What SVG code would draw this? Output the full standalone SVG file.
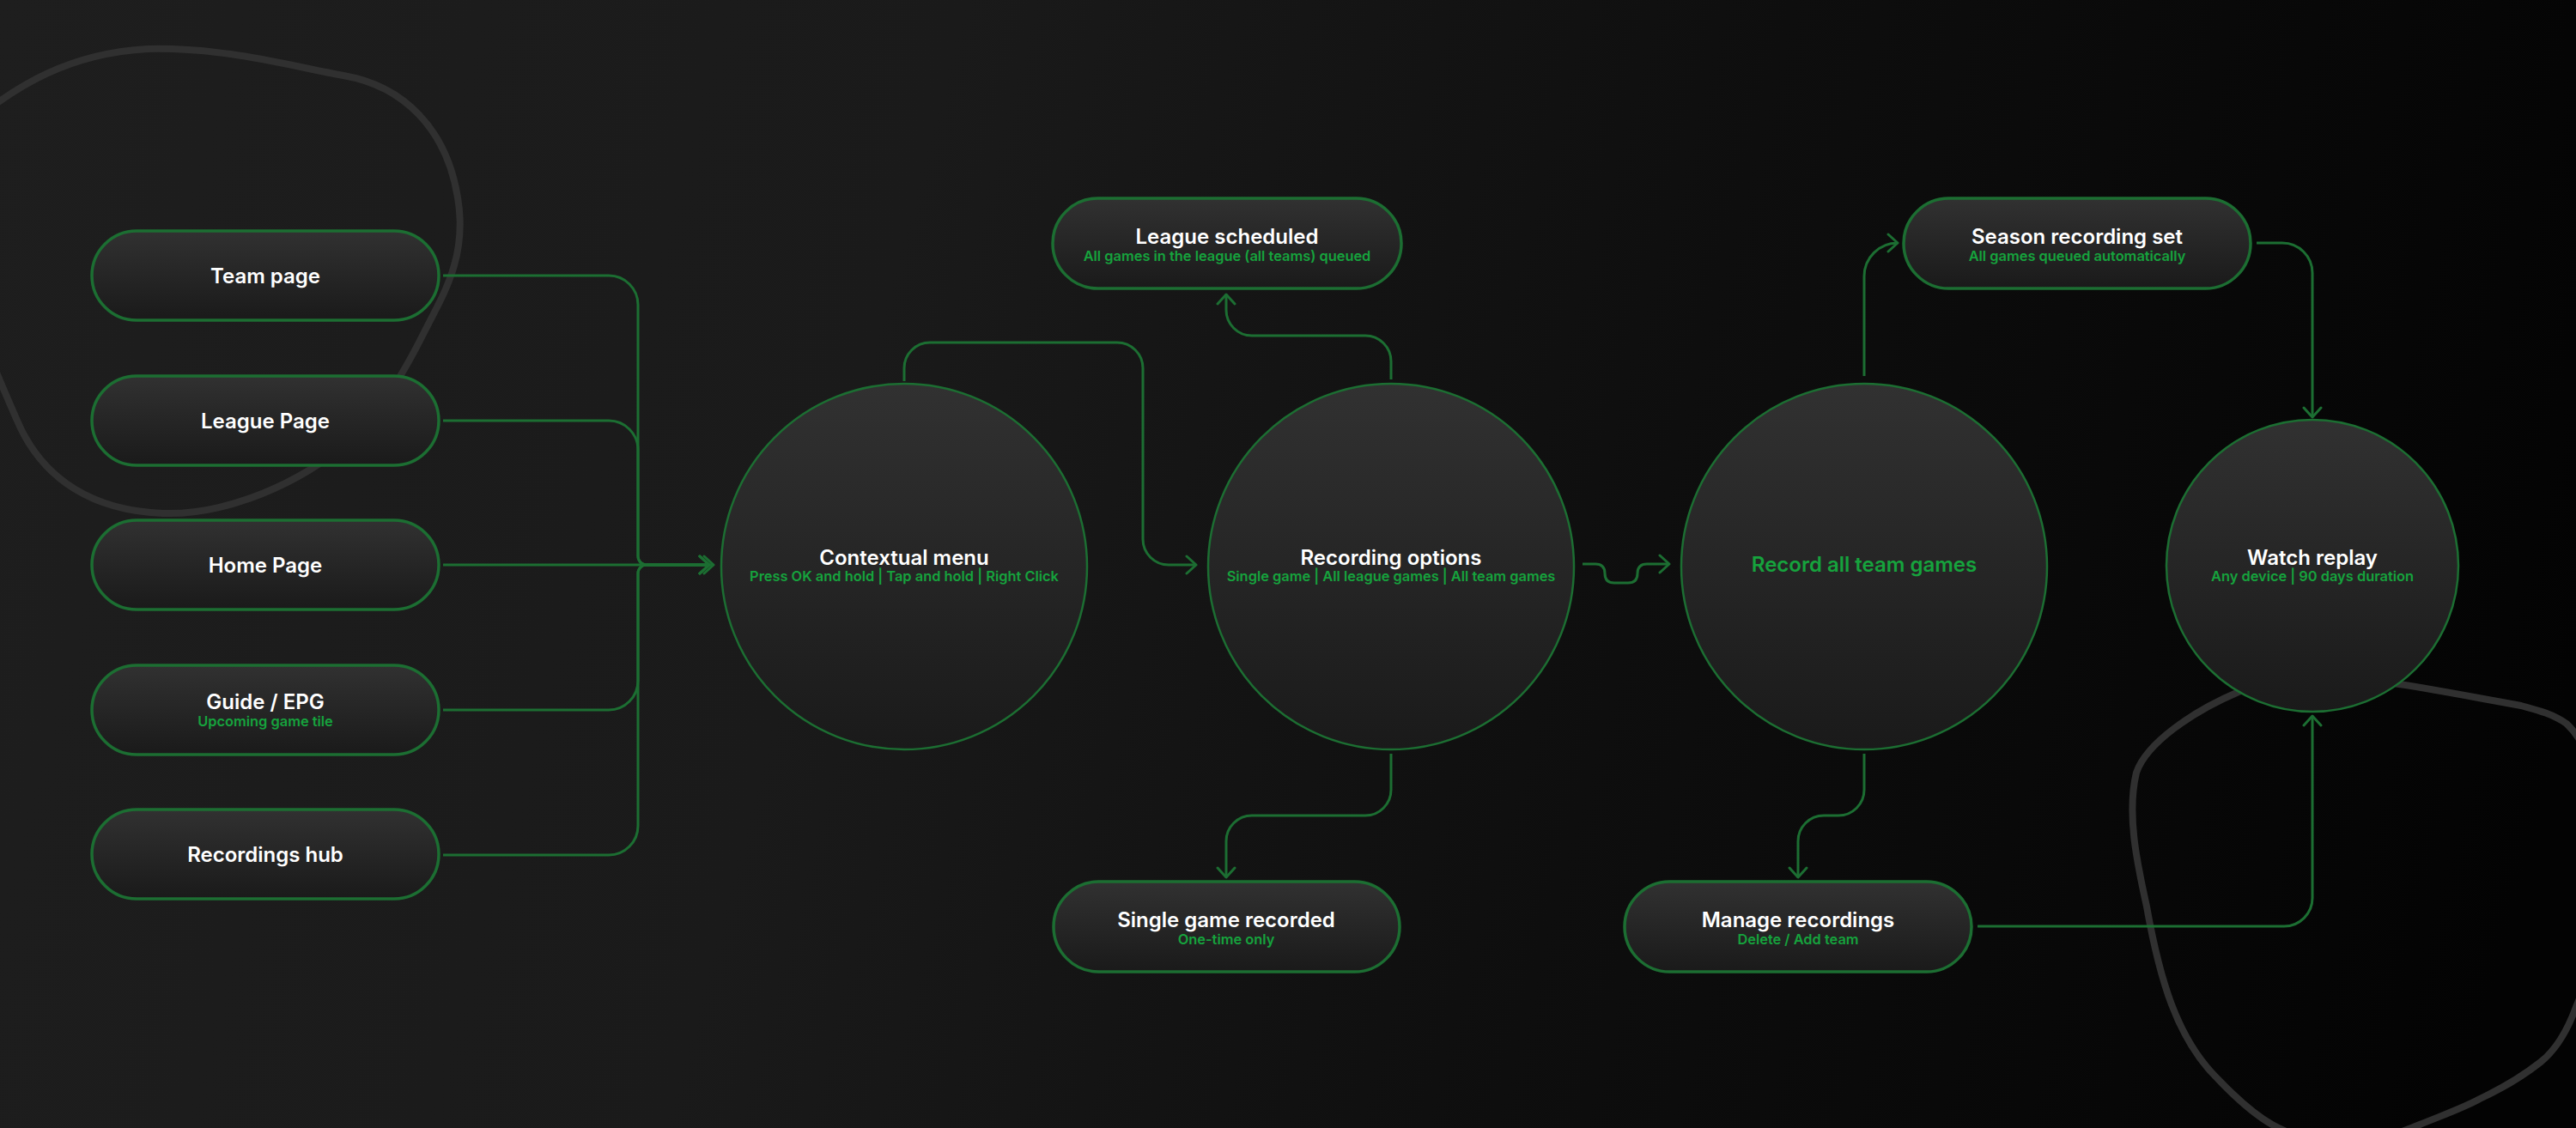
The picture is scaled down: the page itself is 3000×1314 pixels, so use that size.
<svg xmlns="http://www.w3.org/2000/svg" width="3000" height="1314" viewBox="0 0 3000 1314">
  <defs>
    <linearGradient id="bg" gradientUnits="userSpaceOnUse" x1="0" y1="0" x2="3000" y2="800">
      <stop offset="0" stop-color="#1e1e1e"/>
      <stop offset="0.35" stop-color="#1a1a1a"/>
      <stop offset="0.65" stop-color="#0e0e0e"/>
      <stop offset="1" stop-color="#030303"/>
    </linearGradient>
    <linearGradient id="nodeFill" x1="0" y1="0" x2="0" y2="1">
      <stop offset="0" stop-color="#313131"/>
      <stop offset="1" stop-color="#1a1a1a"/>
    </linearGradient>
    <marker id="arr" viewBox="-2 -2 18 24" refX="13" refY="10" markerWidth="18" markerHeight="24" orient="auto" markerUnits="userSpaceOnUse">
      <path d="M2,0 L13,10 L2,20" fill="none" stroke="#1c6e32" stroke-width="3" stroke-linecap="round" stroke-linejoin="round"/>
    </marker>
    <style>
      .pill { fill: url(#nodeFill); stroke: #1c6e32; stroke-width: 3.5; }
      .circ { fill: url(#nodeFill); stroke: #1c6e32; stroke-width: 2.5; }
      .title { font-family: Inter, "Liberation Sans", sans-serif; font-size: 24px; font-weight: 600; fill: #ffffff; text-anchor: middle; }
      .sub { font-family: Inter, "Liberation Sans", sans-serif; font-size: 16.4px; font-weight: 600; fill: #16a33d; text-anchor: middle; }
      .gtitle { font-family: Inter, "Liberation Sans", sans-serif; font-size: 24px; font-weight: 600; fill: #16a33d; text-anchor: middle; }
      .conn { fill: none; stroke: #1c6e32; stroke-width: 3; }
      .blob { fill: none; stroke: #303030; stroke-width: 8; }
    </style>
  </defs>

  <rect x="0" y="0" width="3000" height="1314" fill="url(#bg)"/>

  <g id="decor">
    <path class="blob" d="M-30,140 C20,100 80,62 172,57 C260,55 330,75 400,88 C470,100 520,150 533,230 C545,300 515,345 495,385 C470,435 450,470 400,520 C330,575 250,600 190,598 C110,595 50,560 20,490 C-10,420 -40,360 -40,260 C-40,200 -60,170 -30,140 Z"/>
    <path class="blob" d="M2607,806 C2555,828 2500,865 2488,900 C2476,950 2490,1010 2500,1056 C2515,1140 2535,1210 2583,1257 C2605,1280 2625,1298 2646,1310 C2700,1340 2760,1335 2818,1310 C2850,1297 2870,1290 2888,1280 C2920,1265 2940,1252 2959,1237 C2980,1220 2992,1195 3000,1173 C3040,1080 3050,900 2989,843 C2970,830 2950,826 2936,822 C2880,812 2840,804 2794,797 C2740,788 2660,790 2607,806 Z"/>
  </g>

  <g id="connectors">
    <path class="conn" d="M516,321 H709 A34,34 0 0 1 743,355 V648 A10,10 0 0 0 753,658 H826" marker-end="url(#arr)"/>
    <path class="conn" d="M516,490 H709 A34,34 0 0 1 743,524 V648 A10,10 0 0 0 753,658 H826" marker-end="url(#arr)"/>
    <path class="conn" d="M516,658 H831" marker-end="url(#arr)"/>
    <path class="conn" d="M516,827 H709 A34,34 0 0 0 743,793 V668 A10,10 0 0 1 753,658 H826" marker-end="url(#arr)"/>
    <path class="conn" d="M516,996 H709 A34,34 0 0 0 743,962 V668 A10,10 0 0 1 753,658 H826" marker-end="url(#arr)"/>
    <path class="conn" d="M1053,444 V429 A30,30 0 0 1 1083,399 H1301 A30,30 0 0 1 1331,429 V628 A30,30 0 0 0 1361,658 H1393" marker-end="url(#arr)"/>
    <path class="conn" d="M1620,442 V421 A30,30 0 0 0 1590,391 H1458 A30,30 0 0 1 1428,361 V343" marker-end="url(#arr)"/>
    <path class="conn" d="M1620,878 V920 A30,30 0 0 1 1590,950 H1458 A30,30 0 0 0 1428,980 V1022" marker-end="url(#arr)"/>
    <path class="conn" d="M1843,657 H1858 Q1869,657 1869,668 Q1869,679 1880,679 H1896 Q1907,679 1907,668 Q1907,657 1918,657 H1944" marker-end="url(#arr)"/>
    <path class="conn" d="M2171,438 V322 A39,39 0 0 1 2210,283" marker-end="url(#arr)"/>
    <path class="conn" d="M2628,283 H2658 A35,35 0 0 1 2693,318 V486" marker-end="url(#arr)"/>
    <path class="conn" d="M2171,878 V920 A30,30 0 0 1 2141,950 H2124 A30,30 0 0 0 2094,980 V1022" marker-end="url(#arr)"/>
    <path class="conn" d="M2303,1079 H2660 A33,33 0 0 0 2693,1046 V834" marker-end="url(#arr)"/>
  </g>

  <g id="team-page">
    <rect class="pill" x="107" y="269" width="404" height="104" rx="52"/>
    <text class="title" x="309" y="330">Team page</text>
  </g>
  <g id="league-page">
    <rect class="pill" x="107" y="438" width="404" height="104" rx="52"/>
    <text class="title" x="309" y="499">League Page</text>
  </g>
  <g id="home-page">
    <rect class="pill" x="107" y="606" width="404" height="104" rx="52"/>
    <text class="title" x="309" y="667">Home Page</text>
  </g>
  <g id="guide-epg">
    <rect class="pill" x="107" y="775" width="404" height="104" rx="52"/>
    <text class="title" x="309" y="826">Guide / EPG</text>
    <text class="sub" x="309" y="846">Upcoming game tile</text>
  </g>
  <g id="recordings-hub">
    <rect class="pill" x="107" y="943" width="404" height="104" rx="52"/>
    <text class="title" x="309" y="1004">Recordings hub</text>
  </g>

  <g id="contextual-menu">
    <circle class="circ" cx="1053" cy="660" r="213"/>
    <text class="title" x="1053" y="658">Contextual menu</text>
    <text class="sub" x="1053" y="677">Press OK and hold | Tap and hold | Right Click</text>
  </g>
  <g id="recording-options">
    <circle class="circ" cx="1620" cy="660" r="213"/>
    <text class="title" x="1620" y="658">Recording options</text>
    <text class="sub" x="1620" y="677">Single game | All league games | All team games</text>
  </g>
  <g id="league-scheduled">
    <rect class="pill" x="1226" y="231" width="406" height="105" rx="52.5"/>
    <text class="title" x="1429" y="284">League scheduled</text>
    <text class="sub" x="1429" y="304">All games in the league (all teams) queued</text>
  </g>
  <g id="single-game-recorded">
    <rect class="pill" x="1227" y="1027" width="403" height="105" rx="52.5"/>
    <text class="title" x="1428" y="1080">Single game recorded</text>
    <text class="sub" x="1428" y="1100">One-time only</text>
  </g>
  <g id="record-all-team-games">
    <circle class="circ" cx="2171" cy="660" r="213"/>
    <text class="gtitle" x="2171" y="666">Record all team games</text>
  </g>
  <g id="season-recording-set">
    <rect class="pill" x="2217" y="231" width="404" height="105" rx="52.5"/>
    <text class="title" x="2419" y="284">Season recording set</text>
    <text class="sub" x="2419" y="304">All games queued automatically</text>
  </g>
  <g id="manage-recordings">
    <rect class="pill" x="1892" y="1027" width="404" height="105" rx="52.5"/>
    <text class="title" x="2094" y="1080">Manage recordings</text>
    <text class="sub" x="2094" y="1100">Delete / Add team</text>
  </g>
  <g id="watch-replay">
    <circle class="circ" cx="2693" cy="659" r="170"/>
    <text class="title" x="2693" y="658">Watch replay</text>
    <text class="sub" x="2693" y="677">Any device | 90 days duration</text>
  </g>
</svg>
